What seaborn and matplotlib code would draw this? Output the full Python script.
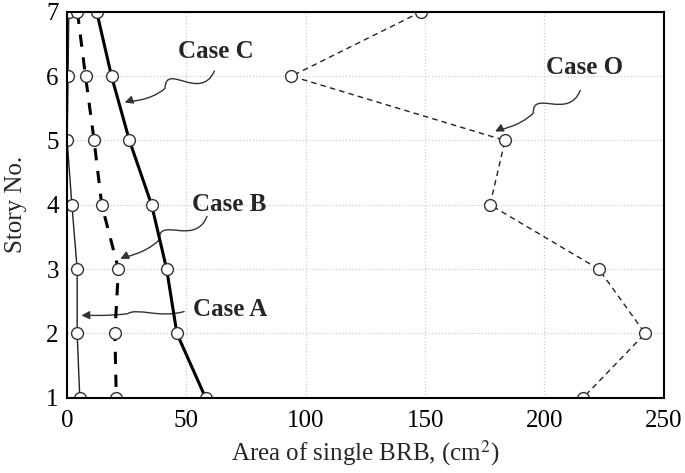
import numpy as np
import pandas as pd
import matplotlib
matplotlib.use("Agg")
from matplotlib import pyplot as plt
from matplotlib.path import Path
from matplotlib.patches import FancyArrowPatch
import seaborn as sns

# story numbers, top to bottom
stories = [7, 6, 5, 4, 3, 2, 1]
# area of single BRB (cm2) for each story
case_a = [0.7, 0.4, 0.0, 2.0, 4.2, 4.2, 5.3]
case_b = [4.3, 7.7, 11.3, 14.5, 21.5, 20.0, 20.6]
case_c = [12.4, 18.6, 26.1, 35.4, 41.7, 46.0, 58.0]
case_o = [148.3, 94.0, 183.5, 177.2, 222.8, 242.2, 216.2]

sns.set_style("white")
plt.rcParams['font.family'] = ['Liberation Serif', 'DejaVu Serif']
plt.rcParams['mathtext.fontset'] = 'stix'

fig = plt.figure(figsize=(6.85, 4.73), dpi=100)
ax = fig.add_axes([0.098, 0.159, 0.871, 0.816])

mk = dict(marker='o', markersize=8.5, markerfacecolor='white',
          markeredgecolor='#333333', markeredgewidth=1.0)

sns.lineplot(x=case_a, y=stories, sort=False, estimator=None, ax=ax,
             color='#222222', linewidth=1.0, **mk)
sns.lineplot(x=case_b, y=stories, sort=False, estimator=None, ax=ax,
             color='black', linewidth=2.2, linestyle=(0, (4, 3.5)), **mk)
sns.lineplot(x=case_c, y=stories, sort=False, estimator=None, ax=ax,
             color='black', linewidth=2.2, **mk)
sns.lineplot(x=case_o, y=stories, sort=False, estimator=None, ax=ax,
             color='#222222', linewidth=1.0, linestyle=(0, (4, 3)), **mk)

ax.set_xlim(0, 250)
ax.set_ylim(1, 7)
ax.set_xticks([0, 50, 100, 150, 200, 250])
ax.set_yticks([1, 2, 3, 4, 5, 6, 7])
ax.grid(True, color='#cccccc', linestyle=':', linewidth=0.9)
for s in ax.spines.values():
    s.set_color('black')
    s.set_linewidth(1.5)
ax.tick_params(axis='both', direction='in', length=4, labelsize=18,
               colors='black')
ax.tick_params(axis='x', pad=9)
ax.tick_params(axis='y', pad=6)
ax.set_xlabel('Area of single BRB, (cm$^2$)', fontsize=18, labelpad=4)
ax.set_ylabel('Story No.', fontsize=18, labelpad=14)

# labels with wavy leader arrows
labels = ["Case C", "Case B", "Case A", "Case O"]
label_xy = [(62.5, 6.39), (67.7, 4.01), (68.5, 2.38), (217.0, 6.14)]
for txt, (tx, ty) in zip(labels, label_xy):
    ax.text(tx, ty, txt, fontsize=18, fontweight='bold', ha='center',
            va='center')


def wavy(p0, p1, amp):
    # smooth leader line with a small wiggle, in pixel space
    a = ax.transData.transform(p0)
    b = ax.transData.transform(p1)
    d = b - a
    n = np.array([-d[1], d[0]]) / np.hypot(*d)
    c1 = a + d * 0.25 + n * amp
    c2 = a + d * 0.45 - n * amp
    m = a + d * 0.55
    c3 = m + d * 0.2 + n * amp * 0.3
    verts = [a, c1, c2, m, c3, b - d * 0.05, b]
    codes = [Path.MOVETO, Path.CURVE4, Path.CURVE4, Path.CURVE4,
             Path.CURVE4, Path.CURVE4, Path.CURVE4]
    verts = ax.transData.inverted().transform(np.array(verts))
    p = FancyArrowPatch(path=Path(verts, codes), arrowstyle='-|>',
                        mutation_scale=12, color='#333333', linewidth=1.0,
                        transform=ax.transData, clip_on=False)
    ax.add_patch(p)


wavy((61.7, 6.08), (24.1, 5.59), 25)
wavy((58.6, 3.82), (22.3, 3.16), 22)
wavy((49.0, 2.34), (6.0, 2.28), 6)
wavy((215.0, 5.78), (179.3, 5.14), 22)

plt.savefig('out.png', dpi=100)
